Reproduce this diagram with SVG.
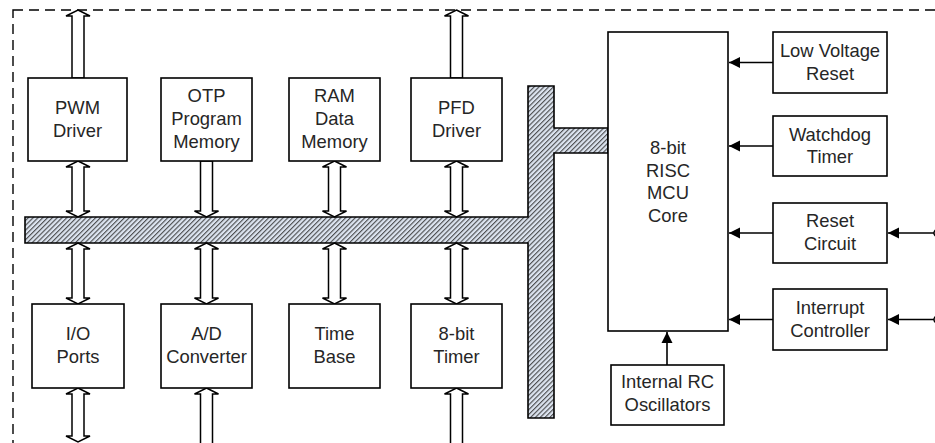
<svg xmlns="http://www.w3.org/2000/svg" width="935" height="443" viewBox="0 0 935 443">
<style>
.box{fill:#fff;stroke:#000;stroke-width:1.6}
.t{font-family:"Liberation Sans",Arial,sans-serif;font-size:18.4px;fill:#262626;text-anchor:middle}
.wa{fill:#fff;stroke:#000;stroke-width:1.5;stroke-linejoin:miter}
.ln{stroke:#000;stroke-width:1.6;fill:none}
</style>
<defs>
<pattern id="hatch" patternUnits="userSpaceOnUse" width="3.4" height="3.4" patternTransform="rotate(45)">
<rect width="3.4" height="3.4" fill="#dce4f0"/>
<line x1="0.6" y1="0" x2="0.6" y2="3.4" stroke="#3a3a3a" stroke-width="1"/>
</pattern>
<marker id="ah" markerUnits="userSpaceOnUse" markerWidth="12" markerHeight="12" viewBox="0 0 12 12" refX="11" refY="6" orient="auto">
<path d="M0,0.5 L11,6 L0,11.5 Z" fill="#000"/>
</marker>
</defs>
<rect x="13" y="10" width="960" height="460" fill="none" stroke="#000" stroke-width="1.4" stroke-dasharray="10,6"/>
<g id="bus">
<path d="M25,217 L528,217 L528,86 L554,86 L554,128 L608,128 L608,153 L554,153 L554,418 L528,418 L528,243 L25,243 Z" fill="url(#hatch)" stroke="#000" stroke-width="1.6"/>
</g>
<g id="connectors">
<path class="wa" d="M78,10 L90,16 L84,16 L84,78 L72,78 L72,16 L66,16 Z"/>
<path class="wa" d="M78,161 L90,167 L84,167 L84,211 L90,211 L78,217 L66,211 L72,211 L72,167 L66,167 Z"/>
<path class="wa" d="M200.5,161 L212.5,161 L212.5,211 L218.5,211 L206.5,217 L194.5,211 L200.5,211 Z"/>
<path class="wa" d="M334.5,161 L346.5,167 L340.5,167 L340.5,211 L346.5,211 L334.5,217 L322.5,211 L328.5,211 L328.5,167 L322.5,167 Z"/>
<path class="wa" d="M456.5,10 L468.5,16 L462.5,16 L462.5,78 L450.5,78 L450.5,16 L444.5,16 Z"/>
<path class="wa" d="M456.5,161 L468.5,167 L462.5,167 L462.5,211 L468.5,211 L456.5,217 L444.5,211 L450.5,211 L450.5,167 L444.5,167 Z"/>
<path class="wa" d="M78,243 L90,249 L84,249 L84,298 L90,298 L78,304 L66,298 L72,298 L72,249 L66,249 Z"/>
<path class="wa" d="M206.5,243 L218.5,249 L212.5,249 L212.5,298 L218.5,298 L206.5,304 L194.5,298 L200.5,298 L200.5,249 L194.5,249 Z"/>
<path class="wa" d="M334.5,243 L346.5,249 L340.5,249 L340.5,298 L346.5,298 L334.5,304 L322.5,298 L328.5,298 L328.5,249 L322.5,249 Z"/>
<path class="wa" d="M456.5,243 L468.5,249 L462.5,249 L462.5,298 L468.5,298 L456.5,304 L444.5,298 L450.5,298 L450.5,249 L444.5,249 Z"/>
<path class="wa" d="M78,388 L90,394 L84,394 L84,436 L90,436 L78,442 L66,436 L72,436 L72,394 L66,394 Z"/>
<path class="wa" d="M206.5,388 L218.5,394 L212.5,394 L212.5,452 L200.5,452 L200.5,394 L194.5,394 Z"/>
<path class="wa" d="M456.5,388 L468.5,394 L462.5,394 L462.5,452 L450.5,452 L450.5,394 L444.5,394 Z"/>
<line class="ln" x1="773" y1="62.5" x2="729" y2="62.5" marker-end="url(#ah)"/>
<line class="ln" x1="773" y1="146" x2="729" y2="146" marker-end="url(#ah)"/>
<line class="ln" x1="773" y1="233" x2="729" y2="233" marker-end="url(#ah)"/>
<line class="ln" x1="773" y1="319.5" x2="729" y2="319.5" marker-end="url(#ah)"/>
<line class="ln" x1="667" y1="365" x2="667" y2="332" marker-end="url(#ah)"/>
<line class="ln" x1="934" y1="233" x2="888" y2="233" marker-end="url(#ah)"/>
<line class="ln" x1="934" y1="319.5" x2="888" y2="319.5" marker-end="url(#ah)"/>
<circle cx="937.5" cy="233" r="3.5" fill="#fff" stroke="#000" stroke-width="1.5"/>
<circle cx="937.5" cy="319.5" r="3.5" fill="#fff" stroke="#000" stroke-width="1.5"/>
</g>
<g id="pwm"><rect class="box" x="28" y="78" width="99" height="83"/><text class="t" x="77.5" y="114">PWM</text><text class="t" x="77.5" y="136.5">Driver</text></g>
<g id="otp"><rect class="box" x="161" y="78" width="91" height="83"/><text class="t" x="206.5" y="101.5">OTP</text><text class="t" x="206.5" y="124.5">Program</text><text class="t" x="206.5" y="147.5">Memory</text></g>
<g id="ram"><rect class="box" x="289" y="78" width="91" height="83"/><text class="t" x="334.5" y="101.5">RAM</text><text class="t" x="334.5" y="124.5">Data</text><text class="t" x="334.5" y="147.5">Memory</text></g>
<g id="pfd"><rect class="box" x="411" y="78" width="91" height="83"/><text class="t" x="456.5" y="114">PFD</text><text class="t" x="456.5" y="136.5">Driver</text></g>
<g id="io"><rect class="box" x="32" y="304" width="92" height="84"/><text class="t" x="78" y="340">I/O</text><text class="t" x="78" y="363">Ports</text></g>
<g id="adc"><rect class="box" x="161" y="304" width="91" height="84"/><text class="t" x="206.5" y="340">A/D</text><text class="t" x="206.5" y="363">Converter</text></g>
<g id="timebase"><rect class="box" x="289" y="304" width="91" height="84"/><text class="t" x="334.5" y="340">Time</text><text class="t" x="334.5" y="363">Base</text></g>
<g id="timer"><rect class="box" x="411" y="304" width="91" height="84"/><text class="t" x="456.5" y="340">8-bit</text><text class="t" x="456.5" y="363">Timer</text></g>
<g id="mcu"><rect class="box" x="608" y="32" width="120" height="299"/><text class="t" x="668" y="154">8-bit</text><text class="t" x="668" y="176.5">RISC</text><text class="t" x="668" y="199">MCU</text><text class="t" x="668" y="221.5">Core</text></g>
<g id="lvr"><rect class="box" x="773" y="32" width="114" height="61"/><text class="t" x="830" y="57">Low Voltage</text><text class="t" x="830" y="79.5">Reset</text></g>
<g id="wdt"><rect class="box" x="773" y="116" width="114" height="60"/><text class="t" x="830" y="140.5">Watchdog</text><text class="t" x="830" y="163">Timer</text></g>
<g id="reset"><rect class="box" x="773" y="203" width="114" height="60"/><text class="t" x="830" y="227">Reset</text><text class="t" x="830" y="250">Circuit</text></g>
<g id="intc"><rect class="box" x="773" y="289" width="114" height="61"/><text class="t" x="830" y="314">Interrupt</text><text class="t" x="830" y="337">Controller</text></g>
<g id="rcosc"><rect class="box" x="611" y="365" width="113" height="60"/><text class="t" x="667.5" y="388">Internal RC</text><text class="t" x="667.5" y="411">Oscillators</text></g>
</svg>
